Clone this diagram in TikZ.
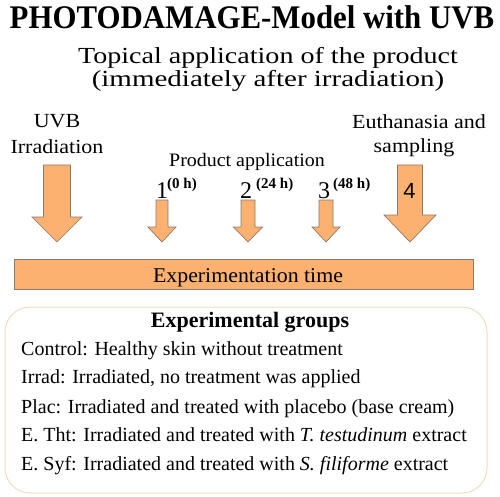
\documentclass[tikz,border=0pt]{standalone}
\usepackage{fontspec}
\setmainfont{Liberation Serif}
\newfontfamily\arialfont{Liberation Sans}
\definecolor{arrfill}{HTML}{FDB170}
\definecolor{arrline}{HTML}{8A7A70}
\definecolor{boxline}{HTML}{EFDCC2}
\newcommand{\downarr}[6]{% c, half shaft, half head, top, headstart, tip
  \filldraw[arrshape] (#1-#2,#4) -- (#1+#2,#4) -- (#1+#2,#5) -- (#1+#3,#5) -- (#1,#6) -- (#1-#3,#5) -- (#1-#2,#5) -- cycle;}
\begin{document}
\begin{tikzpicture}[x=1pt,y=-1pt,
  arrshape/.style={fill=arrfill,draw=arrline,line width=0.7pt,line join=miter},
  txt/.style={inner sep=0pt,anchor=base},
  grp/.style={inner sep=0pt,anchor=base west,font=\fontsize{20}{24}\selectfont}]
\useasboundingbox (0,0) rectangle (500,497);
\node[txt,font=\fontsize{33}{38}\selectfont\bfseries] (title) at (252,29) {\scalebox{0.935}[1]{PHOTODAMAGE-Model with UVB}};
\node[txt,font=\fontsize{23}{27}\selectfont] (top1) at (268,64) {\scalebox{1.22}[1]{Topical application of the product}};
\node[txt,font=\fontsize{23}{27}\selectfont] (top2) at (268,87) {\scalebox{1.26}[1]{(immediately after irradiation)}};
\node[txt,font=\fontsize{20}{24}\selectfont] (uvb) at (57,128) {\scalebox{1.1}[1]{UVB}};
\node[txt,font=\fontsize{20}{24}\selectfont] (irr) at (57,154) {\scalebox{1.1}[1]{Irradiation}};
\node[txt,font=\fontsize{20}{24}\selectfont] (euth) at (419,129) {\scalebox{1.1}[1]{Euthanasia and}};
\node[txt,font=\fontsize{20}{24}\selectfont] (samp) at (414,153) {\scalebox{1.1}[1]{sampling}};
\node[txt,font=\fontsize{19}{23}\selectfont] (prod) at (247,167) {\scalebox{1.05}[1]{Product application}};
% arrows
\downarr{57}{13.5}{25}{165}{217}{242}
\downarr{162}{6}{14}{200}{227}{242}
\downarr{248}{7}{14.5}{200}{227}{242}
\downarr{326}{7}{14}{200}{227}{242}
\downarr{410}{12.5}{26}{165}{215}{242}
\node[txt,anchor=base west,font=\fontsize{24}{28}\selectfont] (n1) at (156,198) {1};
\node[txt,anchor=base west,font=\fontsize{15}{18}\selectfont\bfseries] (t1) at (167,188) {(0 h)};
\node[txt,anchor=base west,font=\fontsize{24}{28}\selectfont] (n2) at (240,198) {2};
\node[txt,anchor=base west,font=\fontsize{15}{18}\selectfont\bfseries] (t2) at (256,188) {(24 h)};
\node[txt,anchor=base west,font=\fontsize{24}{28}\selectfont] (n3) at (318,198) {3};
\node[txt,anchor=base west,font=\fontsize{15}{18}\selectfont\bfseries] (t3) at (333,188) {(48 h)};
\node[txt,font=\fontsize{22}{26}\arialfont\selectfont] (n4) at (409.5,198) {4};
% bar
\node[draw=arrline,fill=arrfill,line width=0.7pt,minimum width=459pt,minimum height=30pt,inner sep=0pt,anchor=north west] (bar) at (14,259) {};
\node[txt,font=\fontsize{21}{25}\selectfont] (bartxt) at (248,282) {\scalebox{1.04}[1]{Experimentation time}};
% groups box
\draw[boxline,line width=1pt,rounded corners=25pt] (5,307) rectangle (487,493);
\node[txt,font=\fontsize{22}{26}\selectfont\bfseries] (grph) at (250,327) {Experimental groups};
\node[grp] (g1) at (21,355) {Control: Healthy skin without treatment};
\node[grp] (g2) at (21,383) {Irrad: Irradiated, no treatment was applied};
\node[grp] (g3) at (21,413) {Plac: Irradiated and treated with placebo (base cream)};
\node[grp] (g4) at (21,441) {E. Tht: Irradiated and treated with \textit{T. testudinum} extract};
\node[grp] (g5) at (21,470) {E. Syf: Irradiated and treated with \textit{S. filiforme} extract};
\end{tikzpicture}
\end{document}
